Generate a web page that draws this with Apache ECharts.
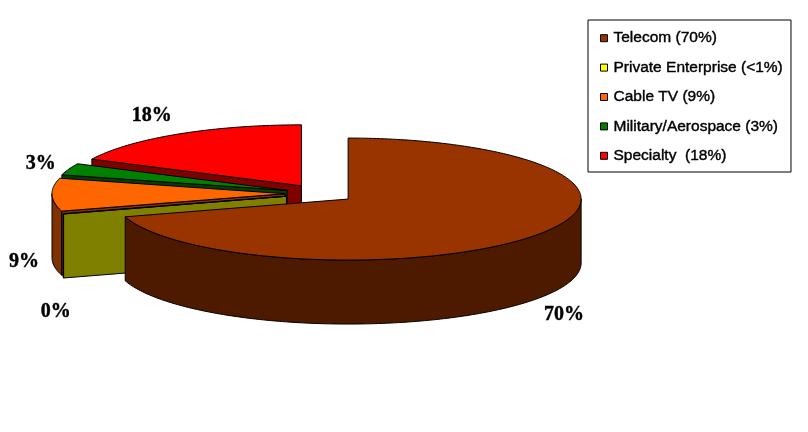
<!DOCTYPE html>
<html><head><meta charset="utf-8">
<style>html,body{margin:0;padding:0;background:#fff}#c{width:808px;height:432px}</style>
<script src="https://cdn.jsdelivr.net/npm/echarts@6/dist/echarts.min.js"></script>
</head><body><div id="c"></div>
<script>
var categories = ['Telecom (70%)','Private Enterprise (<1%)','Cable TV (9%)','Military/Aerospace (3%)','Specialty  (18%)'];
var shares = [70.3, 0.1, 8.7, 3.1, 17.8];
var topColors = ['#993300','#FFFF00','#FF6600','#008000','#FF0000'];
var wallColors = ['#4D1A00','#808000','#803300','#004000','#800000'];
var valueLabels = ['70%','0%','9%','3%','18%'];

// projection of the exploded pie
var CX = 320, CY = 193.6, RX = 233, RY = 61, DEPTH = 64, EXPLODE = 35;
var LABEL_RX = 265, LABEL_RY = 84;
var labelNudge = [[3,2],[23,27],[4,3],[2,3],[-9,1]];

var total = shares.reduce(function(a,b){return a+b;},0);
var starts = [], acc = 0;
shares.forEach(function(v){ starts.push(acc/total*360); acc += v; });
function rad(d){ return d*Math.PI/180; }

function renderSlice(i){
  var a0 = starts[i], a1 = a0 + shares[i]/total*360, mid = (a0+a1)/2;
  var cx = CX + EXPLODE*Math.sin(rad(mid));
  var cy = CY - EXPLODE*(RY/RX)*Math.cos(rad(mid));
  function pt(a,dz){ return [cx+RX*Math.sin(rad(a)), cy-RY*Math.cos(rad(a))+(dz||0)]; }
  function arc(from,to,dz){
    var out=[], n=Math.max(1,Math.ceil((to-from)));
    for(var k=0;k<=n;k++) out.push(pt(from+(to-from)*k/n,dz));
    return out;
  }
  var stroke={stroke:'#000',lineWidth:1,lineJoin:'miter'};
  function poly(points,fill){
    return {type:'polygon',shape:{points:points},style:Object.assign({fill:fill},stroke),silent:true};
  }
  function face(a){
    var p=pt(a); return poly([[cx,cy],p,[p[0],p[1]+DEPTH],[cx,cy+DEPTH]],wallColors[i]);
  }
  var kids=[];
  if(Math.sin(rad(a1))>1e-6) kids.push(face(a1));
  if(Math.sin(rad(a0))<-1e-6) kids.push(face(a0));
  var w0=Math.max(a0,90), w1=Math.min(a1,270);
  if(w1>w0){
    kids.push(poly(arc(w0,w1,0).concat(arc(w0,w1,DEPTH).reverse()),wallColors[i]));
  }
  kids.push(poly([[cx,cy]].concat(arc(a0,a1,0)),topColors[i]));
  var s=Math.sin(rad(mid)), c=Math.cos(rad(mid));
  kids.push({type:'text',silent:true,style:{
    text:valueLabels[i],
    x:cx+LABEL_RX*s+labelNudge[i][0],
    y:cy-LABEL_RY*c+(c<0?DEPTH:0)+labelNudge[i][1],
    align:'center',verticalAlign:'middle',
    font:'bold 20px "Liberation Serif"',fill:'#000',
    stroke:'#000',lineWidth:0.4
  }});
  return {type:'group',children:kids};
}

var paintOrder=[4,3,2,1,0];
var chart=echarts.init(document.getElementById('c'),null,{renderer:'canvas'});
chart.setOption({
  animation:false,
  backgroundColor:'#fff',
  legend:{
    data:categories,orient:'vertical',left:588,top:20,
    backgroundColor:'#fff',borderColor:'#000',borderWidth:1,borderRadius:0,
    padding:[10,8,8,12],itemGap:13,itemWidth:7,itemHeight:7,icon:'rect',
    selectedMode:false,
    itemStyle:{borderColor:'#000',borderWidth:1},
    textStyle:{fontFamily:'Liberation Sans',fontSize:15.5,color:'#000',padding:[0,0,0,1],
      textBorderColor:'#000',textBorderWidth:0.4}
  },
  series:paintOrder.map(function(i){
    return {type:'custom',name:categories[i],coordinateSystem:'none',
      itemStyle:{color:topColors[i]},
      data:[[shares[i]]],
      renderItem:function(){ return renderSlice(i); }};
  })
});
</script></body></html>
